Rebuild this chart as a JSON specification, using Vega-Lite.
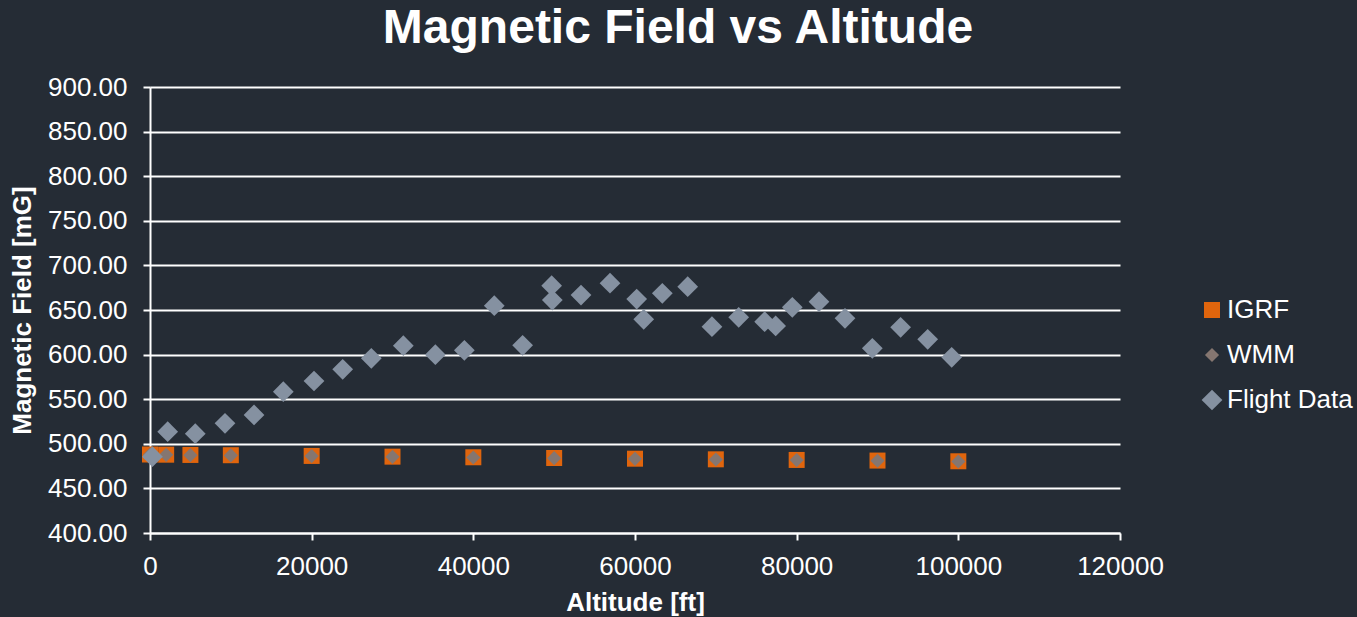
{
  "$schema": "https://vega.github.io/schema/vega-lite/v6.json",
  "autosize": {"type": "none"},
  "width": 970,
  "height": 446,
  "padding": {"left": 150, "top": 87, "right": 237, "bottom": 84},
  "background": "#252C35",
  "title": {
    "text": "Magnetic Field vs Altitude",
    "font": "Liberation Sans",
    "fontSize": 48,
    "fontWeight": "bold",
    "color": "#FFFFFF",
    "anchor": "middle",
    "offset": 21,
    "dx": 43
  },
  "data": {
    "values": [
      {"series": "IGRF", "alt": 0, "field": 488.0},
      {"series": "IGRF", "alt": 2000, "field": 487.8},
      {"series": "IGRF", "alt": 5000, "field": 487.5},
      {"series": "IGRF", "alt": 10000, "field": 487.2},
      {"series": "IGRF", "alt": 20000, "field": 486.4},
      {"series": "IGRF", "alt": 30000, "field": 485.6},
      {"series": "IGRF", "alt": 40000, "field": 484.9},
      {"series": "IGRF", "alt": 50000, "field": 484.1},
      {"series": "IGRF", "alt": 60000, "field": 483.3},
      {"series": "IGRF", "alt": 70000, "field": 482.6},
      {"series": "IGRF", "alt": 80000, "field": 481.9},
      {"series": "IGRF", "alt": 90000, "field": 481.2},
      {"series": "IGRF", "alt": 100000, "field": 480.4},
      {"series": "WMM", "alt": 0, "field": 487.8},
      {"series": "WMM", "alt": 2000, "field": 487.6},
      {"series": "WMM", "alt": 5000, "field": 487.3},
      {"series": "WMM", "alt": 10000, "field": 487.0},
      {"series": "WMM", "alt": 20000, "field": 486.2},
      {"series": "WMM", "alt": 30000, "field": 485.4},
      {"series": "WMM", "alt": 40000, "field": 484.7},
      {"series": "WMM", "alt": 50000, "field": 483.9},
      {"series": "WMM", "alt": 60000, "field": 483.1},
      {"series": "WMM", "alt": 70000, "field": 482.4},
      {"series": "WMM", "alt": 80000, "field": 481.7},
      {"series": "WMM", "alt": 90000, "field": 481.0},
      {"series": "WMM", "alt": 100000, "field": 480.2},
      {"series": "Flight Data", "alt": 300, "field": 485.6},
      {"series": "Flight Data", "alt": 2190, "field": 513.6},
      {"series": "Flight Data", "alt": 5600, "field": 511.3},
      {"series": "Flight Data", "alt": 9280, "field": 523.0},
      {"series": "Flight Data", "alt": 12870, "field": 532.3},
      {"series": "Flight Data", "alt": 16490, "field": 558.4},
      {"series": "Flight Data", "alt": 20290, "field": 570.4},
      {"series": "Flight Data", "alt": 23840, "field": 583.5},
      {"series": "Flight Data", "alt": 27380, "field": 595.8},
      {"series": "Flight Data", "alt": 31340, "field": 610.0},
      {"series": "Flight Data", "alt": 35300, "field": 599.9},
      {"series": "Flight Data", "alt": 38890, "field": 604.8},
      {"series": "Flight Data", "alt": 42590, "field": 654.8},
      {"series": "Flight Data", "alt": 46100, "field": 610.4},
      {"series": "Flight Data", "alt": 49690, "field": 677.3},
      {"series": "Flight Data", "alt": 49770, "field": 661.2},
      {"series": "Flight Data", "alt": 53320, "field": 666.8},
      {"series": "Flight Data", "alt": 56910, "field": 680.0},
      {"series": "Flight Data", "alt": 60210, "field": 662.3},
      {"series": "Flight Data", "alt": 61080, "field": 639.6},
      {"series": "Flight Data", "alt": 63380, "field": 668.7},
      {"series": "Flight Data", "alt": 66520, "field": 676.1},
      {"series": "Flight Data", "alt": 69520, "field": 631.3},
      {"series": "Flight Data", "alt": 72830, "field": 641.8},
      {"series": "Flight Data", "alt": 76040, "field": 636.9},
      {"series": "Flight Data", "alt": 77400, "field": 632.1},
      {"series": "Flight Data", "alt": 79460, "field": 653.0},
      {"series": "Flight Data", "alt": 82760, "field": 659.3},
      {"series": "Flight Data", "alt": 85980, "field": 640.7},
      {"series": "Flight Data", "alt": 89360, "field": 607.1},
      {"series": "Flight Data", "alt": 92860, "field": 630.6},
      {"series": "Flight Data", "alt": 96210, "field": 617.1},
      {"series": "Flight Data", "alt": 99180, "field": 597.0}
    ]
  },
  "mark": {"type": "point", "filled": true, "opacity": 1, "strokeWidth": 0},
  "encoding": {
    "x": {
      "field": "alt",
      "type": "quantitative",
      "scale": {"domain": [0, 120000], "nice": false, "zero": false},
      "axis": {
        "title": "Altitude [ft]",
        "values": [0, 20000, 40000, 60000, 80000, 100000, 120000],
        "format": "d",
        "grid": false,
        "labelFlush": false,
        "labelPadding": 13,
        "titlePadding": 10
      }
    },
    "y": {
      "field": "field",
      "type": "quantitative",
      "scale": {"domain": [400, 900], "nice": false, "zero": false},
      "axis": {
        "title": "Magnetic Field [mG]",
        "values": [400, 450, 500, 550, 600, 650, 700, 750, 800, 850, 900],
        "format": ".2f",
        "grid": true,
        "labelFlush": false,
        "labelPadding": 16,
        "titlePadding": 12
      }
    },
    "color": {
      "field": "series",
      "type": "nominal",
      "scale": {"domain": ["IGRF", "WMM", "Flight Data"], "range": ["#E0650D", "#857670", "#8591A1"]},
      "legend": {"title": null, "orient": "none", "legendX": 1049, "legendY": 210}
    },
    "shape": {
      "field": "series",
      "type": "nominal",
      "scale": {"domain": ["IGRF", "WMM", "Flight Data"], "range": ["square", "diamond", "diamond"]},
      "legend": {"title": null, "orient": "none", "legendX": 1049, "legendY": 210}
    },
    "size": {
      "field": "series",
      "type": "nominal",
      "scale": {"type": "ordinal", "domain": ["IGRF", "WMM", "Flight Data"], "range": [256, 200, 430]},
      "legend": {"title": null, "orient": "none", "legendX": 1049, "legendY": 210}
    }
  },
  "config": {
    "view": {"stroke": null},
    "font": "Liberation Sans",
    "axis": {
      "labelFont": "Liberation Sans",
      "labelFontSize": 26,
      "labelColor": "#FFFFFF",
      "titleFont": "Liberation Sans",
      "titleFontSize": 26,
      "titleFontWeight": "bold",
      "titleColor": "#FFFFFF",
      "domainColor": "#FFFFFF",
      "domainWidth": 2,
      "tickColor": "#FFFFFF",
      "tickWidth": 2,
      "tickSize": 7,
      "gridColor": "#FFFFFF",
      "gridWidth": 2,
      "gridOpacity": 1
    },
    "legend": {
      "labelFont": "Liberation Sans",
      "labelFontSize": 26,
      "labelColor": "#FFFFFF",
      "rowPadding": 19,
      "labelOffset": 2,
      "symbolStrokeWidth": 0,
      "symbolOpacity": 1
    }
  }
}
